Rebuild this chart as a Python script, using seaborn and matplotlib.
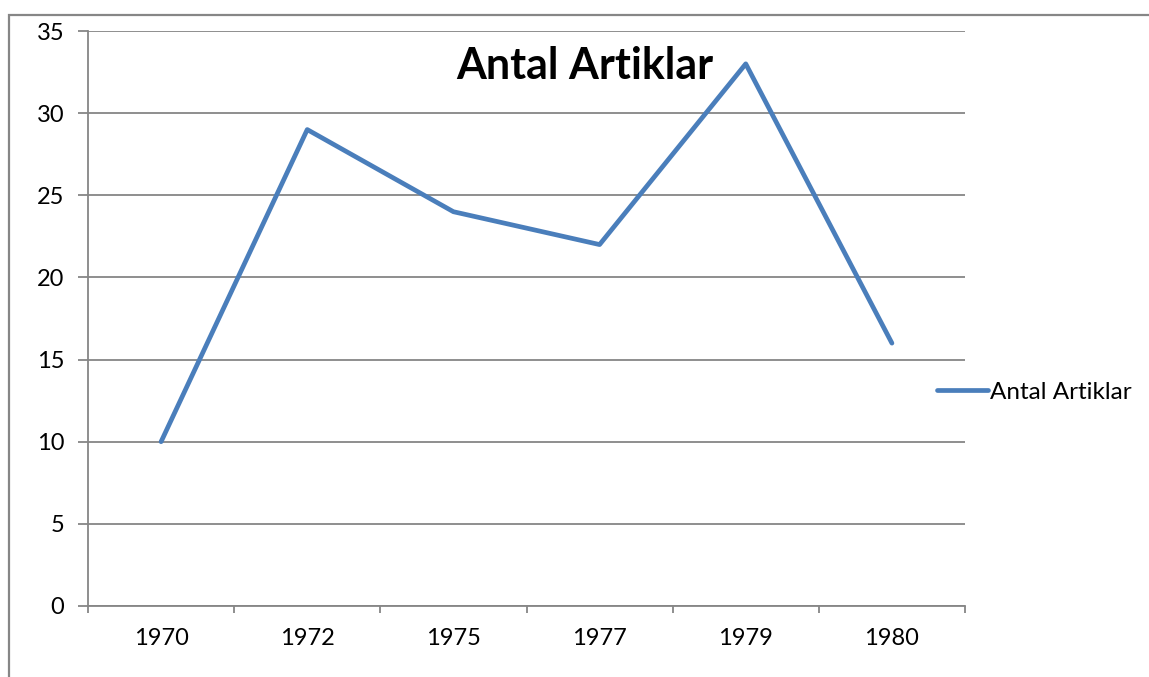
import matplotlib
matplotlib.use('Agg')
import matplotlib.pyplot as plt
import seaborn as sns
import pandas as pd
from matplotlib.patches import Rectangle

# data
years = ['1970', '1972', '1975', '1977', '1979', '1980']
antal = [10, 29, 24, 22, 33, 16]
series_name = 'Antal Artiklar'

df = pd.DataFrame({'year': years, series_name: antal})

sns.set_style('white')
plt.rcParams['font.family'] = ['Lato', 'DejaVu Sans']
plt.rcParams['text.color'] = 'black'

fig = plt.figure(figsize=(11.49, 6.77), dpi=100)
ax = fig.add_axes([88 / 1149, 71 / 677, 877 / 1149, 575 / 677])

# outer chart border
fig.patches.append(Rectangle((9 / 1149, -0.01), 1.0, (677 - 15) / 677 + 0.01,
                             transform=fig.transFigure, fill=False,
                             edgecolor='#868686', linewidth=1.6))

sns.lineplot(data=df, x='year', y=series_name, ax=ax, color='#4A7EBB',
             linewidth=3.4, label=series_name, sort=False)

ax.set_xlim(-0.5, len(years) - 0.5)
ax.set_ylim(0, 35)
ax.set_yticks(range(0, 36, 5))
ax.set_xticks(range(len(years)))
ax.set_xticklabels(years)
ax.set_xticks([i - 0.5 for i in range(len(years) + 1)], minor=True)

ax.yaxis.grid(True, color='#868686', linewidth=1.3)
ax.xaxis.grid(False)
for side in ['top', 'right']:
    ax.spines[side].set_visible(False)
for side in ['left', 'bottom']:
    ax.spines[side].set_color('#868686')
    ax.spines[side].set_linewidth(1.3)

ax.tick_params(axis='y', which='major', length=7, width=1.3, color='#868686',
               labelsize=17, labelcolor='black', pad=10, left=True)
ax.tick_params(axis='x', which='major', length=0, labelsize=17,
               labelcolor='black', pad=16)
ax.tick_params(axis='x', which='minor', length=5, width=1.3, color='#868686',
               bottom=True)

ax.set_xlabel('')
ax.set_ylabel('')

# title sits inside the plot area
fig.text(585 / 1149, 1 - 66 / 677, series_name, ha='center', va='center',
         fontsize=31, fontweight='bold', color='black')

ax.legend(loc='center left', bbox_to_anchor=(915 / 1149, 1 - 392 / 677),
          bbox_transform=fig.transFigure, frameon=False, fontsize=17.5,
          handlelength=2.1, handletextpad=0.1)

fig.savefig('out.png', dpi=100)
